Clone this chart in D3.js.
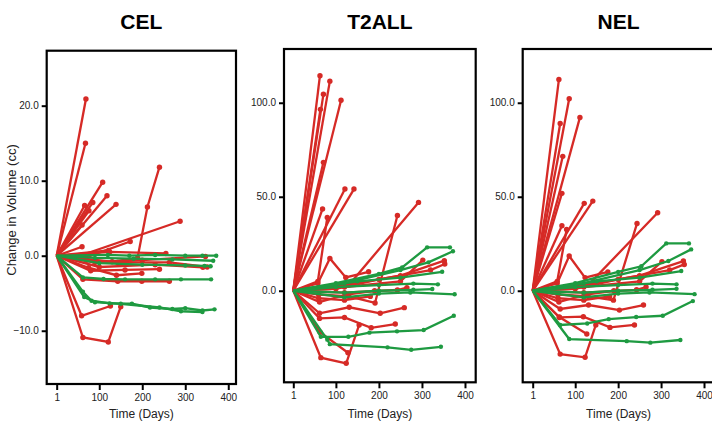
<!DOCTYPE html>
<html>
<head>
<meta charset="utf-8">
<script src="https://cdn.jsdelivr.net/npm/d3@7"></script>
<style>
	body { margin: 0; background: #fff; }
	svg { display: block; }
	.tick text { font-family: "Liberation Sans Narrow", "Liberation Sans", Arial, sans-serif; font-size: 10px; fill: #222; }
	.tick line { stroke: #000; stroke-width: 2; }
</style>
</head>
<body>
<div id="chart"></div>
<script>
//values: [day, change in cc]
let panelTitles = ["CEL", "T2ALL", "NEL"];
let xTicks = [1, 100, 200, 300, 400];
let yTicksCel = [-10, 0, 10, 20];
let yTicksLarge = [0, 50, 100];

let celSeries = [
	{g:"prog", pts:[[1,0],[69,20.9]]},
	{g:"prog", pts:[[1,0],[68,15.0]]},
	{g:"prog", pts:[[1,0],[108,9.8]]},
	{g:"prog", pts:[[1,0],[118,8.0]]},
	{g:"prog", pts:[[1,0],[139,6.85]]},
	{g:"prog", pts:[[1,0],[85,7.1]]},
	{g:"prog", pts:[[1,0],[66,6.7]]},
	{g:"prog", pts:[[1,0],[76,6.0]]},
	{g:"prog", pts:[[1,0],[60,4.1]]},
	{g:"prog", pts:[[1,0],[70,-0.6],[130,-0.8],[189,-0.3],[212,6.5],[240,11.8]]},
	{g:"prog", pts:[[1,0],[60,0.1],[288,4.6]]},
	{g:"prog", pts:[[1,0],[65,-0.3],[172,1.9]]},
	{g:"prog", pts:[[1,0],[60,1.2]]},
	{g:"prog", pts:[[1,0],[122,0.7]]},
	{g:"prog", pts:[[1,0],[124,0.5],[255,0.3]]},
	{g:"prog", pts:[[1,0],[90,-0.9],[200,-0.6],[347,-0.1]]},
	{g:"prog", pts:[[1,0],[143,-0.9],[263,-0.9],[351,-1.5]]},
	{g:"prog", pts:[[1,0],[100,-1.5],[230,-1.2],[341,-1.55]]},
	{g:"prog", pts:[[1,0],[80,-2.0],[160,-1.9],[240,-1.8]]},
	{g:"prog", pts:[[1,0],[75,-1.6],[140,-2.6],[199,-2.35]]},
	{g:"prog", pts:[[1,0],[62,-3.15],[143,-3.4],[199,-3.4],[263,-3.4]]},
	{g:"prog", pts:[[1,0],[59,-8.0],[126,-6.7]]},
	{g:"prog", pts:[[1,0],[62,-10.9],[121,-11.5],[150,-6.8]]},
	{g:"resp", pts:[[1,0],[120,0.1],[170,0.0],[230,0.1],[300,0.0],[340,0.0],[372,0.0]]},
	{g:"resp", pts:[[1,0],[90,-0.3],[180,-0.4],[270,-0.5],[365,-0.67]]},
	{g:"resp", pts:[[1,0],[100,-1.0],[200,-1.2],[300,-1.3],[345,-1.35],[359,-1.4]]},
	{g:"resp", pts:[[1,0],[62,-2.9],[110,-3.1],[160,-3.15],[230,-3.15],[290,-3.15],[360,-3.15]]},
	{g:"resp", pts:[[1,0],[62,-4.8],[82,-6.0],[124,-6.35],[176,-6.4],[218,-6.9],[270,-7.1],[300,-7.0],[340,-7.3],[368,-7.15]]},
	{g:"resp", pts:[[1,0],[65,-5.5],[90,-6.2],[150,-6.4],[240,-6.9],[290,-7.4],[340,-7.5]]}
];

let t2allSeries = [
	{g:"prog", pts:[[1,0],[63,114.4]]},
	{g:"prog", pts:[[1,0],[86,111.5]]},
	{g:"prog", pts:[[1,0],[71,104.5]]},
	{g:"prog", pts:[[1,0],[64,96.5]]},
	{g:"prog", pts:[[1,0],[112,101.3]]},
	{g:"prog", pts:[[1,0],[71,68.3]]},
	{g:"prog", pts:[[1,0],[121,54.1]]},
	{g:"prog", pts:[[1,0],[142,54.1]]},
	{g:"prog", pts:[[1,0],[69,43.5]]},
	{g:"prog", pts:[[1,0],[58,5],[80,39]]},
	{g:"prog", pts:[[1,0],[130,3],[292,47]]},
	{g:"prog", pts:[[1,0],[60,-2],[130,-3],[191,-6.5],[243,40]]},
	{g:"prog", pts:[[1,0],[58,4],[86,17.2],[123,7.1],[176,10.1]]},
	{g:"prog", pts:[[1,0],[120,2],[250,5],[302,16.3]]},
	{g:"prog", pts:[[1,0],[150,4],[250,8],[352,16]]},
	{g:"prog", pts:[[1,0],[100,1],[200,6],[320,11],[353,14.2]]},
	{g:"prog", pts:[[1,0],[120,-1],[243,0.4],[265,1.6]]},
	{g:"prog", pts:[[1,0],[62,-12],[131,-8.8],[203,-12],[259,-9]]},
	{g:"prog", pts:[[1,0],[62,-14.7],[120,-14.2],[182,-19.7],[238,-17.7]]},
	{g:"prog", pts:[[1,0],[65,-35.6],[124,-38.6],[154,-18.2]]},
	{g:"prog", pts:[[1,0],[63,-22],[128,-33]]},
	{g:"prog", pts:[[1,0],[60,-4],[120,-5],[180,-3]]},
	{g:"prog", pts:[[1,0],[62,-6],[125,-2],[190,0]]},
	{g:"resp", pts:[[1,0],[100,4],[200,9],[254,12.4],[312,23.1],[365,23.1]]},
	{g:"resp", pts:[[1,0],[120,4],[250,11],[315,15.1],[372,21]]},
	{g:"resp", pts:[[1,0],[150,5],[250,7],[347,10.1]]},
	{g:"resp", pts:[[1,0],[100,2],[200,3],[280,3.8],[337,3.4]]},
	{g:"resp", pts:[[1,0],[120,-1],[200,0],[280,0.5],[324,0.9]]},
	{g:"resp", pts:[[1,0],[120,-3.5],[200,-1.5],[273,-0.9],[376,-1.9]]},
	{g:"resp", pts:[[1,0],[65,-24.5],[129,-24.5],[178,-22.3],[242,-21.6],[304,-20.9],[374,-13.3]]},
	{g:"resp", pts:[[1,0],[80,-26],[86,-28.4],[220,-30.1],[275,-31.4],[344,-29.8]]}
];

let nelSeries = [
	{g:"prog", pts:[[1,0],[62,112.4]]},
	{g:"prog", pts:[[1,0],[86,102.1]]},
	{g:"prog", pts:[[1,0],[65,89]]},
	{g:"prog", pts:[[1,0],[111,92.2]]},
	{g:"prog", pts:[[1,0],[71,71.5]]},
	{g:"prog", pts:[[1,0],[69,51.8]]},
	{g:"prog", pts:[[1,0],[121,46.5]]},
	{g:"prog", pts:[[1,0],[141,47.7]]},
	{g:"prog", pts:[[1,0],[69,34.6]]},
	{g:"prog", pts:[[1,0],[58,5],[80,32.6]]},
	{g:"prog", pts:[[1,0],[130,3],[292,41.5]]},
	{g:"prog", pts:[[1,0],[60,-2],[130,-3],[189,-5],[244,35.8]]},
	{g:"prog", pts:[[1,0],[58,4],[86,18.5],[123,7],[176,10]]},
	{g:"prog", pts:[[1,0],[120,2],[250,5],[302,15.5]]},
	{g:"prog", pts:[[1,0],[150,4],[250,8],[352,15.8]]},
	{g:"prog", pts:[[1,0],[100,1],[200,6],[320,11],[354,14]]},
	{g:"prog", pts:[[1,0],[120,-1],[243,0.5],[265,2]]},
	{g:"prog", pts:[[1,0],[65,-9.7],[131,-7.6],[203,-10.3],[259,-7.6]]},
	{g:"prog", pts:[[1,0],[63,-14.2],[119,-13.8],[181,-19.5],[238,-18.2]]},
	{g:"prog", pts:[[1,0],[65,-33.7],[123,-35.4],[148,-18.2]]},
	{g:"prog", pts:[[1,0],[63,-14],[127,-23]]},
	{g:"prog", pts:[[1,0],[60,-4],[120,-5],[180,-3]]},
	{g:"prog", pts:[[1,0],[62,-6],[125,-2],[190,0]]},
	{g:"resp", pts:[[1,0],[100,4],[200,10],[254,13],[312,25.2],[365,25.2]]},
	{g:"resp", pts:[[1,0],[120,4],[250,11],[317,15.8],[370,22]]},
	{g:"resp", pts:[[1,0],[150,5],[250,7],[347,10.5]]},
	{g:"resp", pts:[[1,0],[100,2],[200,3],[280,3.8],[336,3.4]]},
	{g:"resp", pts:[[1,0],[120,-1],[200,0],[280,0.5],[336,1]]},
	{g:"resp", pts:[[1,0],[120,-3.5],[200,-1.5],[273,-0.9],[378,-1.8]]},
	{g:"resp", pts:[[1,0],[65,-18.2],[128,-17.4],[178,-15.1],[242,-14],[304,-13.3],[374,-5.5]]},
	{g:"resp", pts:[[1,0],[86,-25.7],[220,-26.8],[275,-27.6],[345,-26.2]]}
];

//panel frames (pixels) and domains
let panels = [
	{title:panelTitles[0], series:celSeries, yTicks:yTicksCel, left:46.7, top:50.7, right:236, bottom:384, xDom:[-22.2, 418], yDom:[-17.1, 27.33]},
	{title:panelTitles[1], series:t2allSeries, yTicks:yTicksLarge, left:284, top:49, right:475.7, bottom:382.3, xDom:[-20.6, 424.9], yDom:[-48.7, 128.6]},
	{title:panelTitles[2], series:nelSeries, yTicks:yTicksLarge, left:522.7, top:49, right:714.4, bottom:382.3, xDom:[-22.3, 424.2], yDom:[-48.7, 128.6]}
];

const colors = {prog:"#d62a26", resp:"#1e9a41"};
const narrow = "'Liberation Sans Narrow', 'Liberation Sans', Arial, sans-serif";

let svg = d3.select("#chart")
	.append("svg")
	.attr("width", 712)
	.attr("height", 422);

//y label
svg.append("text")
	.attr("transform", "translate(16,210) rotate(-90)")
	.attr("text-anchor", "middle")
	.style("font-family", "'Liberation Sans', Arial, sans-serif")
	.style("font-size", "13px")
	.attr("fill", "#222")
	.text("Change in Volume (cc)");

panels.forEach((p)=>{

	const xScale = d3.scaleLinear().domain(p.xDom).range([p.left, p.right]);
	const yScale = d3.scaleLinear().domain(p.yDom).range([p.bottom, p.top]);

	let g = svg.append("g");

	//title
	g.append("text")
		.attr("x", (p.left + p.right)/2)
		.attr("y", 29)
		.attr("text-anchor", "middle")
		.style("font-family", narrow)
		.style("font-size", "21px")
		.style("font-weight", "bold")
		.text(p.title);

	//axes
	g.append("g")
		.attr("transform", `translate(${p.left},0)`)
		.call(d3.axisLeft(yScale).tickValues(p.yTicks).tickFormat(d3.format(".1f")).tickSize(5).tickPadding(3))
		.call((a)=>a.select(".domain").remove());

	g.append("g")
		.attr("transform", `translate(0,${p.bottom})`)
		.call(d3.axisBottom(xScale).tickValues(xTicks).tickFormat(d3.format("d")).tickSize(6).tickPadding(4))
		.call((a)=>a.select(".domain").remove());

	g.append("text")
		.attr("x", (p.left + p.right)/2)
		.attr("y", 418)
		.attr("text-anchor", "middle")
		.style("font-family", narrow)
		.style("font-size", "12px")
		.attr("fill", "#222")
		.text("Time (Days)");

	//lines
	const line = d3.line()
		.x((d)=>xScale(d[0]))
		.y((d)=>yScale(d[1]));

	let ordered = p.series.filter((s)=>s.g==="prog").concat(p.series.filter((s)=>s.g==="resp"));

	ordered.forEach((s)=>{
		g.append("path")
			.attr("d", line(s.pts))
			.attr("fill", "none")
			.attr("stroke", colors[s.g])
			.attr("stroke-width", 2.3);

		g.selectAll(null)
			.data(s.pts.slice(1))
			.enter()
			.append("circle")
			.attr("cx", (d)=>xScale(d[0]))
			.attr("cy", (d)=>yScale(d[1]))
			.attr("r", s.g==="prog" ? 2.7 : 2.2)
			.attr("fill", colors[s.g]);
	});

	//frame
	g.append("rect")
		.attr("x", p.left)
		.attr("y", p.top)
		.attr("width", p.right - p.left)
		.attr("height", p.bottom - p.top)
		.attr("fill", "none")
		.attr("stroke", "#000")
		.attr("stroke-width", 2.2);
});
</script>
</body>
</html>
